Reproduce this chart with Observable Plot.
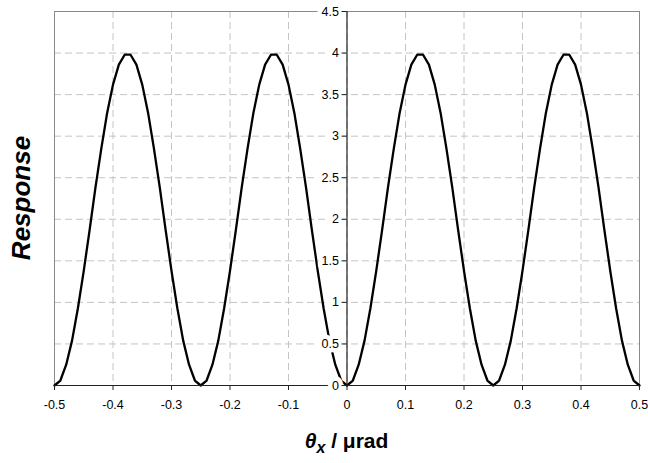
<!DOCTYPE html>
<html>
<head>
<meta charset="utf-8">
<script src="https://cdn.jsdelivr.net/npm/d3@7"></script>
<script src="https://cdn.jsdelivr.net/npm/@observablehq/plot@0.6"></script>
<style>
  html, body { margin: 0; padding: 0; background: #fff; }
  #chart svg { display: block; font-family: "Liberation Sans", Arial, sans-serif; }
</style>
</head>
<body>
<div id="chart"></div>
<script>
// Angle samples (µrad)
const thetaX = [
  -0.50, -0.49, -0.48, -0.47, -0.46, -0.45, -0.44, -0.43, -0.42, -0.41,
  -0.40, -0.39, -0.38, -0.37, -0.36, -0.35, -0.34, -0.33, -0.32, -0.31,
  -0.30, -0.29, -0.28, -0.27, -0.26, -0.25, -0.24, -0.23, -0.22, -0.21,
  -0.20, -0.19, -0.18, -0.17, -0.16, -0.15, -0.14, -0.13, -0.12, -0.11,
  -0.10, -0.09, -0.08, -0.07, -0.06, -0.05, -0.04, -0.03, -0.02, -0.01,
   0.00,  0.01,  0.02,  0.03,  0.04,  0.05,  0.06,  0.07,  0.08,  0.09,
   0.10,  0.11,  0.12,  0.13,  0.14,  0.15,  0.16,  0.17,  0.18,  0.19,
   0.20,  0.21,  0.22,  0.23,  0.24,  0.25,  0.26,  0.27,  0.28,  0.29,
   0.30,  0.31,  0.32,  0.33,  0.34,  0.35,  0.36,  0.37,  0.38,  0.39,
   0.40,  0.41,  0.42,  0.43,  0.44,  0.45,  0.46,  0.47,  0.48,  0.49,
   0.50
];

// Response at each angle sample
const response = [
  0.00, 0.06, 0.25, 0.54, 0.93, 1.38, 1.87, 2.38, 2.85, 3.28,
  3.62, 3.86, 3.98, 3.98, 3.86, 3.62, 3.28, 2.85, 2.38, 1.87,
  1.38, 0.93, 0.54, 0.25, 0.06, 0.00, 0.06, 0.25, 0.54, 0.93,
  1.38, 1.87, 2.38, 2.85, 3.28, 3.62, 3.86, 3.98, 3.98, 3.86,
  3.62, 3.28, 2.85, 2.38, 1.87, 1.38, 0.93, 0.54, 0.25, 0.06,
  0.00, 0.06, 0.25, 0.54, 0.93, 1.38, 1.87, 2.38, 2.85, 3.28,
  3.62, 3.86, 3.98, 3.98, 3.86, 3.62, 3.28, 2.85, 2.38, 1.87,
  1.38, 0.93, 0.54, 0.25, 0.06, 0.00, 0.06, 0.25, 0.54, 0.93,
  1.38, 1.87, 2.38, 2.85, 3.28, 3.62, 3.86, 3.98, 3.98, 3.86,
  3.62, 3.28, 2.85, 2.38, 1.87, 1.38, 0.93, 0.54, 0.25, 0.06,
  0.00
];

const xTicks = [-0.5, -0.4, -0.3, -0.2, -0.1, 0, 0.1, 0.2, 0.3, 0.4, 0.5];
const yTicks = [0, 0.5, 1, 1.5, 2, 2.5, 3, 3.5, 4, 4.5];
const xTickLabels = ["-0.5", "-0.4", "-0.3", "-0.2", "-0.1", "0", "0.1", "0.2", "0.3", "0.4", "0.5"];
const yTickLabels = ["0", "0.5", "1", "1.5", "2", "2.5", "3", "3.5", "4", "4.5"];

const W = 648, H = 463;
const mL = 54, mR = 9, mT = 11, mB = 78;

const data = thetaX.map((x, i) => ({x, y: response[i]}));

// Offset that moves the y axis from the left frame edge to x = 0
const xs = Plot.scale({x: {domain: [-0.5, 0.5], range: [mL, W - mR]}});
const axisShift = xs.apply(0) - xs.apply(-0.5);

const font = "Liberation Sans, Arial, sans-serif";

const chart = Plot.plot({
  width: W,
  height: H,
  marginLeft: mL,
  marginRight: mR,
  marginTop: mT,
  marginBottom: mB,
  style: {fontFamily: font, background: "#fff"},
  x: {domain: [-0.5, 0.5], label: null},
  y: {domain: [0, 4.5], label: null},
  marks: [
    Plot.gridX(xTicks.slice(1, -1), {stroke: "#c4c4c4", strokeOpacity: 1, strokeDasharray: "7,4"}),
    Plot.gridY(yTicks.slice(1, -1), {stroke: "#c4c4c4", strokeOpacity: 1, strokeDasharray: "7,4"}),
    Plot.frame({stroke: "#8a8a8a"}),
    Plot.line(data, {x: "x", y: "y", stroke: "#000", strokeWidth: 2.3, strokeLinejoin: "round"}),
    Plot.ruleY([0], {stroke: "#222", strokeWidth: 1.2}),
    Plot.ruleX([0], {stroke: "#222", strokeWidth: 1.2}),
    // y tick labels sit against the x = 0 axis with a white backing
    Plot.text(yTicks, {
      x: 0, y: d => d, text: (d, i) => yTickLabels[i],
      dx: -8, textAnchor: "end", fontSize: 12.5, fill: "#000",
      stroke: "#fff", strokeWidth: 9, paintOrder: "stroke"
    }),
    Plot.axisY(yTicks, {anchor: "left", dx: axisShift, tickSize: 5, text: null, label: null, stroke: "#222"}),
    Plot.axisX(xTicks, {
      anchor: "bottom", tickSize: 5, tickPadding: 10, stroke: "#222", label: null,
      tickFormat: (d) => xTickLabels[xTicks.indexOf(d)], fontSize: 12.5, fill: "#000"
    })
  ]
});

const svg = d3.select(chart);

// Axis titles
svg.append("text")
  .attr("transform", `translate(30,${(mT + H - mB) / 2}) rotate(-90)`)
  .attr("text-anchor", "middle")
  .attr("font-family", font)
  .attr("font-weight", "bold")
  .attr("font-style", "italic")
  .attr("font-size", 26)
  .attr("fill", "#000")
  .text("Response");

const xt = svg.append("text")
  .attr("x", (mL + W - mR) / 2)
  .attr("y", 448)
  .attr("text-anchor", "middle")
  .attr("font-family", font)
  .attr("font-weight", "bold")
  .attr("font-size", 21)
  .attr("fill", "#000");
xt.append("tspan").attr("font-style", "italic").text("θ");
xt.append("tspan").attr("font-style", "italic").attr("font-size", 16).attr("dy", 5).text("x");
xt.append("tspan").attr("dy", -5).text(" / μrad");

document.getElementById("chart").appendChild(chart);
</script>
</body>
</html>
